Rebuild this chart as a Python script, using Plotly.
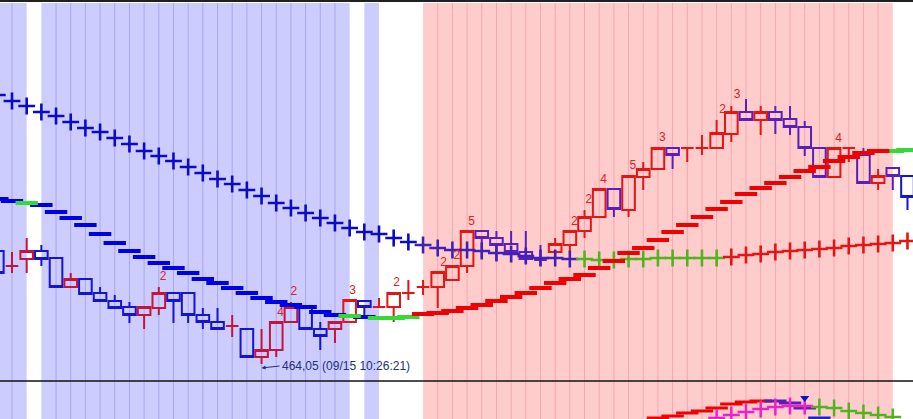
import plotly.graph_objects as go

# ---------------- data ----------------
bars = list(range(-1, 62))

opens = [469.70, 468.95, 469.30, 469.70, 469.35, 467.90, 468.30, 467.60, 467.20, 466.90,
         466.50, 466.85, 467.60, 467.60, 466.50, 466.15, 465.95, 465.80, 464.40, 464.75,
         466.15, 466.90, 465.80, 465.80, 466.15, 467.20, 466.90, 466.90, 467.60, 467.90,
         467.90, 468.25, 468.95, 470.70, 470.35, 470.05, 469.65, 469.25, 469.65, 470.00,
         470.70, 471.40, 472.80, 471.75, 473.40, 473.80, 474.85, 474.85, 474.85, 474.85,
         475.55, 476.65, 476.25, 476.65, 476.30, 475.90, 474.85, 473.40, 474.85, 474.50,
         473.10, 473.85, 473.45]
highs = [469.70, 469.65, 470.35, 470.00, 469.35, 468.60, 468.30, 467.90, 467.50, 467.15,
         466.90, 467.90, 467.60, 467.60, 466.85, 466.85, 466.50, 465.80, 465.80, 466.15,
         467.15, 467.00, 466.15, 466.15, 467.25, 467.20, 467.35, 467.60, 468.25, 468.25,
         468.65, 468.95, 470.70, 470.70, 470.70, 470.70, 470.70, 470.00, 470.35, 470.70,
         471.75, 472.80, 472.80, 473.45, 474.15, 474.85, 474.85, 474.85, 475.50, 476.25,
         476.95, 477.30, 476.95, 476.95, 476.95, 476.20, 474.85, 474.85, 474.85, 474.85,
         473.80, 473.85, 473.45]
lows = [468.60, 468.60, 468.60, 468.95, 467.90, 467.90, 467.55, 467.20, 466.85, 466.10,
        465.80, 466.50, 466.10, 466.10, 465.80, 465.80, 465.40, 464.40, 464.05, 464.40,
        466.15, 465.80, 464.75, 465.10, 466.15, 466.50, 466.90, 466.15, 467.25, 467.50,
        466.85, 468.25, 468.60, 469.35, 469.25, 469.15, 469.10, 468.95, 469.30, 469.65,
        470.35, 471.40, 471.40, 471.40, 472.75, 473.80, 473.80, 474.15, 474.50, 474.85,
        475.15, 476.25, 475.50, 475.55, 475.50, 474.45, 473.40, 473.40, 474.15, 473.10,
        472.75, 472.75, 471.75]
closes = [468.60, 468.95, 469.70, 469.30, 467.90, 468.30, 467.55, 467.20, 466.85, 466.50,
          466.90, 467.60, 467.20, 466.50, 466.15, 465.80, 465.95, 464.40, 464.75, 466.15,
          466.90, 465.80, 465.45, 466.15, 467.25, 466.90, 466.90, 467.60, 467.60, 467.90,
          468.65, 468.95, 470.70, 470.35, 470.00, 469.65, 469.30, 469.25, 470.05, 470.70,
          471.40, 472.80, 471.80, 473.45, 473.80, 474.85, 474.50, 474.85, 474.85, 475.60,
          476.65, 476.25, 476.65, 476.25, 475.90, 474.85, 473.40, 474.85, 474.85, 473.10,
          473.45, 473.45, 472.40]

# slow trailing line drawn with crosses
cross_values = [477.50, 477.20, 476.95, 476.65, 476.45, 476.15, 475.85, 475.65, 475.35, 475.05,
                474.70, 474.45, 474.20, 473.90, 473.60, 473.30, 473.05, 472.75, 472.45, 472.10,
                471.85, 471.60, 471.35, 471.10, 470.85, 470.65, 470.55, 470.35, 470.15, 470.00,
                469.85, 469.75, 469.75, 469.70, 469.60, 469.55, 469.45, 469.35, 469.35, 469.30,
                469.30, 469.25, 469.25, 469.30, 469.30, 469.35, 469.35, 469.35, 469.35, 469.35,
                469.40, 469.50, 469.55, 469.65, 469.70, 469.75, 469.80, 469.85, 469.95, 470.00,
                470.05, 470.10, 470.20]
cross_state = (["down"] * 40) + (["flat"] * 10) + (["up"] * 13)

# fast trailing stop drawn as dashes
step_values = [472.30, 472.20, 472.10, 472.00, 471.65, 471.35, 471.00, 470.55, 470.10, 469.70,
               469.40, 469.10, 468.85, 468.60, 468.30, 468.10, 467.85, 467.60, 467.35, 467.15,
               467.00, 466.90, 466.65, 466.50, 466.45, 466.40, 466.35, 466.35, 466.40, 466.55,
               466.60, 466.70, 466.85, 467.00, 467.20, 467.40, 467.60, 467.85, 468.10, 468.30,
               468.50, 468.85, 469.20, 469.60, 469.85, 470.25, 470.65, 471.00, 471.40, 471.80,
               472.15, 472.55, 472.85, 473.10, 473.40, 473.70, 473.90, 474.20, 474.40, 474.60,
               474.70, 474.70, 474.75]
step_state = (["down", "down", "flat"] + ["down"] * 21 + ["flat", "down", "flat", "flat", "flat"]
              + ["up"] * 32 + ["flat", "flat"])

# wave-count labels
label_x = [10.3, 18.3, 19.2, 23.2, 26.2, 29.4, 30.3, 31.3, 38.3, 39.3, 40.3, 42.3, 44.3, 48.4, 49.4, 56.3]
label_y = [468.40, 466.60, 467.65, 467.70, 468.10, 469.10, 469.45, 471.15, 471.15, 472.25,
           473.25, 473.95, 475.35, 476.75, 477.50, 475.30]
label_text = ["2", "4", "2", "3", "2", "2", "2", "5", "2", "2", "4", "5", "3", "2", "3", "4"]

low_bar = 17
low_price = 464.05
low_text = "464,05 (09/15 10:26:21)"

# session shading (bar index spans)
blue_zones = [(-2, 1), (2, 23), (24, 25)]
pink_zones = [(28, 60)]

# lower pane oscillator
osc_line_bars = [44, 45, 46, 47, 48, 49, 50, 51, 52, 53, 54, 55]
osc_line_vals = [63, 65, 68, 70, 73, 77, 79, 80, 80, 78, 73, 63]
osc_line_state = ["up"] * 8 + ["turn"] * 3 + ["down"]
osc_cross_bars = [48, 49, 50, 51, 52, 53, 54, 55, 56, 57, 58, 59, 60]
osc_cross_vals = [63, 66, 69, 72, 74, 75, 75, 74, 73, 70, 68, 66, 64]
osc_cross_state = ["up"] * 7 + ["down"] * 6
osc_signal_bar = [54]
osc_signal_val = [83]

# ---------------- styling ----------------
UP_IN_BLUE = "#C4143C"
UP_COL = "#E61414"
DOWN_COL = "#1414D2"
DOWN_IN_PINK = "#5A1EBE"
BLUE_BG = "#CCCCFF"
PINK_BG = "#FFCCCC"
BLUE_GRID = "#A8A8EC"
PINK_GRID = "#F2A8B0"
H = 419.0


def in_zones(k, zones):
    return any(a <= k <= b for a, b in zones)


fig = go.Figure()

# candles grouped by colour
groups = {}
prev_close = None
for i, k in enumerate(bars):
    o, c = opens[i], closes[i]
    if c > o:
        up = True
    elif c < o:
        up = False
    else:
        up = prev_close is None or c >= prev_close
    prev_close = c
    if up:
        col = UP_IN_BLUE if in_zones(k, blue_zones) and k <= 22 else UP_COL
    else:
        col = DOWN_IN_PINK if in_zones(k, pink_zones) else DOWN_COL
    groups.setdefault(col, []).append(i)

for col, idx in groups.items():
    style = dict(line=dict(color=col, width=2), fillcolor="rgba(0,0,0,0)")
    fig.add_trace(go.Candlestick(
        x=[bars[i] for i in idx],
        open=[opens[i] for i in idx], high=[highs[i] for i in idx],
        low=[lows[i] for i in idx], close=[closes[i] for i in idx],
        increasing=style, decreasing=style, whiskerwidth=0,
        hoverinfo="skip", showlegend=False))

# crosses
cross_colors = {"down": "#0A0AC8", "down_pink": "#4020B8", "flat": "#50B41E", "up": "#E61414"}
cgroups = {}
for i, k in enumerate(bars):
    st = cross_state[i]
    if st == "down" and in_zones(k, pink_zones):
        st = "down_pink"
    cgroups.setdefault(st, []).append(i)
for st, idx in cgroups.items():
    col = cross_colors[st]
    fig.add_trace(go.Scatter(
        x=[bars[i] for i in idx], y=[cross_values[i] for i in idx], mode="markers",
        marker=dict(symbol="cross-thin", size=12, color=col, line=dict(color=col, width=2.6)),
        hoverinfo="skip"))

# dashes
step_colors = {"down": "#0000E6", "flat": "#32DC32", "up": "#F00000"}
sgroups = {}
for i, st in enumerate(step_state):
    sgroups.setdefault(st, []).append(i)
for st, idx in sgroups.items():
    col = step_colors[st]
    fig.add_trace(go.Scatter(
        x=[bars[i] for i in idx], y=[step_values[i] for i in idx], mode="markers",
        marker=dict(symbol="line-ew", size=16, color=col, line=dict(color=col, width=4)),
        hoverinfo="skip"))

# labels
fig.add_trace(go.Scatter(
    x=label_x, y=label_y, mode="text", text=label_text,
    textfont=dict(color="#E02020", size=12, family="Liberation Sans"),
    hoverinfo="skip"))

# lower pane
osc_line_colors = {"up": "#F00000", "turn": "#5A1EB4", "down": "#2020C8"}
og = {}
for i, st in enumerate(osc_line_state):
    og.setdefault(st, []).append(i)
for st, idx in og.items():
    col = osc_line_colors[st]
    fig.add_trace(go.Scatter(
        x=[osc_line_bars[i] for i in idx], y=[osc_line_vals[i] for i in idx],
        mode="markers", yaxis="y2",
        marker=dict(symbol="line-ew", size=16, color=col, line=dict(color=col, width=3)),
        hoverinfo="skip"))
osc_cross_colors = {"up": "#F020C8", "down": "#50B41E"}
oc = {}
for i, st in enumerate(osc_cross_state):
    oc.setdefault(st, []).append(i)
for st, idx in oc.items():
    col = osc_cross_colors[st]
    fig.add_trace(go.Scatter(
        x=[osc_cross_bars[i] for i in idx], y=[osc_cross_vals[i] for i in idx],
        mode="markers", yaxis="y2",
        marker=dict(symbol="cross-thin", size=12, color=col, line=dict(color=col, width=2.5)),
        hoverinfo="skip"))
fig.add_trace(go.Scatter(
    x=osc_signal_bar, y=osc_signal_val, mode="markers", yaxis="y2",
    marker=dict(symbol="triangle-down", size=8, color="#1010D0"), hoverinfo="skip"))

# shading
shapes = []
top = (H - 3) / H
for a, b in blue_zones:
    shapes.append(dict(type="rect", xref="x", yref="paper", x0=a, x1=b, y0=0, y1=top,
                       fillcolor=BLUE_BG, line=dict(width=0), layer="below"))
    for k in range(a + 1, b):
        if k >= -1:
            shapes.append(dict(type="line", xref="x", yref="paper", x0=k, x1=k, y0=0, y1=top,
                               line=dict(color=BLUE_GRID, width=1), layer="below"))
for a, b in pink_zones:
    shapes.append(dict(type="rect", xref="x", yref="paper", x0=a, x1=b, y0=0, y1=top,
                       fillcolor=PINK_BG, line=dict(width=0), layer="below"))
    for k in range(a + 1, b):
        shapes.append(dict(type="line", xref="x", yref="paper", x0=k, x1=k, y0=0, y1=top,
                           line=dict(color=PINK_GRID, width=1), layer="below"))
shapes.append(dict(type="line", xref="paper", yref="paper", x0=0, x1=1, y0=38 / H, y1=38 / H,
                   line=dict(color="#101010", width=1.5), layer="above"))
shapes.append(dict(type="line", xref="paper", yref="paper", x0=0, x1=1, y0=(H - 1) / H, y1=(H - 1) / H,
                   line=dict(color="#202020", width=2), layer="above"))

fig.add_annotation(
    x=low_bar, y=low_price, xref="x", yref="y", text=low_text, showarrow=True,
    ax=18, ay=-2, xanchor="left", yshift=-4, arrowhead=2, arrowsize=0.8, arrowwidth=1,
    arrowcolor="#22307A", font=dict(family="Liberation Sans", size=12, color="#22307A"))

px_per_bar = 14.68
fig.update_layout(
    width=913, height=419, margin=dict(l=0, r=0, t=0, b=0),
    paper_bgcolor="white", plot_bgcolor="white", showlegend=False,
    boxmode="overlay", boxgap=0.14, boxgroupgap=0, shapes=shapes,
    xaxis=dict(range=[-12 / px_per_bar, (913 - 12) / px_per_bar], visible=False,
               rangeslider=dict(visible=False), fixedrange=True),
    yaxis=dict(domain=[39 / H, 1], range=[463.25, 482.25], visible=False, fixedrange=True),
    yaxis2=dict(domain=[0, 38 / H], range=[62, 100], visible=False, anchor="x", fixedrange=True),
)

fig.write_html("out.html", config={"displayModeBar": False},
               post_script="document.body.style.margin='0px';document.body.style.overflow='hidden';")
